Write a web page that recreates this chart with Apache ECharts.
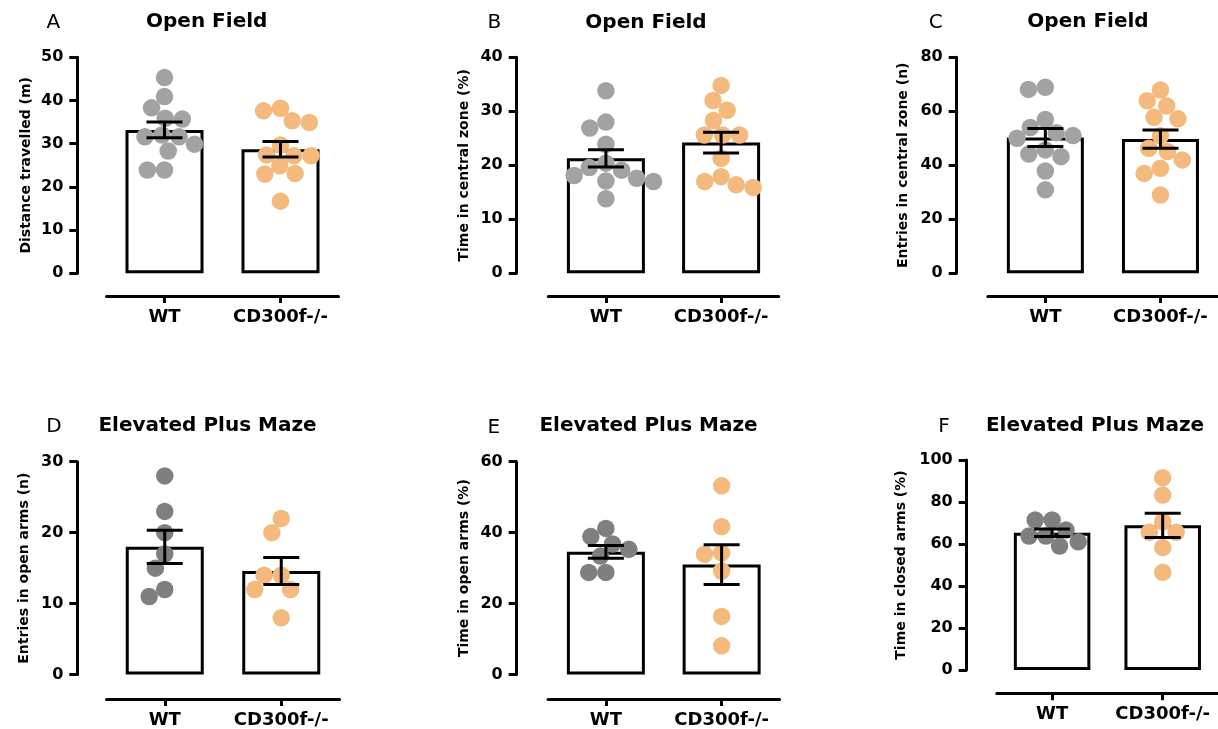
<!DOCTYPE html>
<html>
<head>
<meta charset="utf-8">
<script src="https://cdn.jsdelivr.net/npm/echarts@6/dist/echarts.min.js"></script>
<style>
html,body{margin:0;padding:0;background:#fff;}
#chart{width:1218px;height:729px;}
</style>
</head>
<body>
<div id="chart"></div>
<script>
// ---------------- data ----------------
const categories = ['WT', 'CD300f-/-'];

const A_WT = [45.3, 40.9, 38.3, 35.9, 35.7, 32.0, 31.6, 31.6, 29.9, 28.3, 23.9, 23.9];
const A_KO = [38.2, 37.6, 35.3, 34.9, 29.7, 27.4, 27.2, 27.2, 24.9, 23.1, 23.0, 16.7];
const A_MEAN = [33.2, 28.7];
const A_SEM = [1.85, 1.8];

const B_WT = [33.8, 28.0, 26.9, 23.9, 20.4, 19.6, 19.1, 18.1, 17.6, 17.1, 17.0, 13.8];
const B_KO = [34.8, 32.0, 30.2, 28.3, 25.6, 25.6, 25.6, 21.3, 17.9, 17.0, 16.4, 15.9];
const B_MEAN = [21.3, 24.2];
const B_SEM = [1.6, 1.9];

const C_WT = [68.9, 68.1, 57.0, 54.0, 52.1, 51.0, 50.0, 45.7, 44.2, 43.2, 37.9, 30.9];
const C_KO = [67.9, 63.9, 62.0, 57.8, 57.2, 50.9, 46.3, 45.1, 42.0, 38.9, 37.0, 29.0];
const C_MEAN = [50.3, 49.7];
const C_SEM = [3.3, 3.4];

const D_WT = [28, 23, 20, 17, 15, 12, 11];
const D_KO = [22, 20, 14, 14, 12, 12, 8];
const D_MEAN = [18.0, 14.6];
const D_SEM = [2.35, 1.9];

const E_WT = [41.2, 38.9, 36.8, 35.3, 33.4, 28.8, 28.8];
const E_KO = [53.2, 41.7, 34.3, 33.9, 29.2, 16.4, 8.1];
const E_MEAN = [34.6, 31.0];
const E_SEM = [1.8, 5.6];

const F_WT = [71.4, 71.4, 66.7, 63.8, 63.8, 61.1, 59.0];
const F_KO = [91.6, 83.3, 70.6, 65.6, 65.6, 58.3, 46.5];
const F_MEAN = [65.4, 68.9];
const F_SEM = [1.8, 5.8];

const Y_MAX = [50, 40, 80, 30, 60, 100];
const Y_INTERVAL = [10, 10, 20, 10, 20, 20];
const Y_NAMES = ['Distance travelled (m)', 'Time in central zone (%)', 'Entries in central zone (n)',
                 'Entries in open arms (n)', 'Time in open arms (%)', 'Time in closed arms (%)'];
const TITLES = ['Open Field', 'Open Field', 'Open Field', 'Elevated Plus Maze', 'Elevated Plus Maze', 'Elevated Plus Maze'];
const LETTERS = ['A', 'B', 'C', 'D', 'E', 'F'];

// ---------------- layout / style ----------------
const FONT = 'DejaVu Sans';
const GREY_TOP = '#a2a2a5';
const GREY_BOTTOM = '#7f7f7f';
const ORANGE = '#f4b97c';
const DOT = 17.5;

const layout = [
  {grid:{left:106.5, top:57.3, width:232, height:216}, yOff:29.2, xOff:22.7, nameGap:44, bw:78,
   tx:206.7, ty:22, lx:53.3, ly:23, grey:GREY_TOP},
  {grid:{left:548.3, top:57.3, width:230.4, height:216}, yOff:31.6, xOff:22.7, nameGap:45, bw:78,
   tx:646, ty:23, lx:494.3, ly:23, grey:GREY_TOP},
  {grid:{left:987.8, top:57.3, width:231.4, height:216}, yOff:31.1, xOff:22.7, nameGap:46.5, bw:77,
   tx:1088, ty:22, lx:935.7, ly:22.5, grey:GREY_TOP},
  {grid:{left:106.5, top:461.7, width:233, height:215.6}, yOff:29.2, xOff:24.4, nameGap:45.5, bw:78,
   tx:207.5, ty:426, lx:54, ly:426.5, grey:GREY_BOTTOM},
  {grid:{left:548, top:461.7, width:231.5, height:215.6}, yOff:31.3, xOff:24.4, nameGap:45, bw:78,
   tx:648.5, ty:426, lx:493.7, ly:428, grey:GREY_BOTTOM},
  {grid:{left:996.8, top:460, width:224.6, height:210}, yOff:30.1, xOff:23.3, nameGap:58.5, bw:76.5,
   tx:1095, ty:425.3, lx:944, ly:426.7, grey:GREY_BOTTOM}
];

const WT = [A_WT, B_WT, C_WT, D_WT, E_WT, F_WT];
const KO = [A_KO, B_KO, C_KO, D_KO, E_KO, F_KO];
const MEAN = [A_MEAN, B_MEAN, C_MEAN, D_MEAN, E_MEAN, F_MEAN];
const SEM = [A_SEM, B_SEM, C_SEM, D_SEM, E_SEM, F_SEM];

// beeswarm: horizontal offsets (px) so dots of the same group don't collide
function swarm(values, pxPerUnit, diam) {
  const order = values.map((v, i) => i).sort((a, b) => values[b] - values[a]);
  const placed = [];
  const out = new Array(values.length).fill(0);
  for (const i of order) {
    const y = values[i] * pxPerUnit;
    const cands = [0];
    for (const p of placed) {
      const dy = Math.abs(p.y - y);
      if (dy < diam) {
        const dx = Math.sqrt(diam * diam - dy * dy);
        cands.push(p.x + dx, p.x - dx);
      }
    }
    cands.sort((a, b) => Math.abs(a) - Math.abs(b) || a - b);
    let best = 0;
    for (const c of cands) {
      if (placed.every(p => (p.x - c) ** 2 + (p.y - y) ** 2 >= diam * diam - 1e-6)) { best = c; break; }
    }
    placed.push({x: best, y});
    out[i] = best;
  }
  return out;
}

const grids = [], xAxes = [], yAxes = [], series = [], graphics = [];

layout.forEach((L, i) => {
  grids.push(Object.assign({containLabel:false}, L.grid));
  // category axis (visible)
  xAxes.push({
    type:'category', gridIndex:i, data:categories, position:'bottom', offset:L.xOff,
    axisLine:{show:true, onZero:false, lineStyle:{color:'#000', width:3}},
    axisTick:{show:true, alignWithLabel:true, length:7, lineStyle:{color:'#000', width:3}},
    axisLabel:{color:'#000', fontFamily:FONT, fontWeight:'bold', fontSize:18, margin:12, interval:0},
    splitLine:{show:false}
  });
  // value axis for dot placement (hidden)
  xAxes.push({type:'value', gridIndex:i, min:-0.5, max:1.5, show:false,
    axisLine:{onZero:false}, splitLine:{show:false}});
  yAxes.push({
    type:'value', gridIndex:i, min:0, max:Y_MAX[i], interval:Y_INTERVAL[i], offset:L.yOff, position:'left',
    name:Y_NAMES[i], nameLocation:'middle', nameGap:L.nameGap, nameRotate:90,
    nameTextStyle:{color:'#000', fontFamily:FONT, fontWeight:'bold', fontSize:14},
    axisLine:{show:true, onZero:false, lineStyle:{color:'#000', width:3}},
    axisTick:{show:true, length:8, lineStyle:{color:'#000', width:3}},
    axisLabel:{color:'#000', fontFamily:FONT, fontWeight:'bold', fontSize:16, margin:14},
    splitLine:{show:false}
  });

  const pxPerUnit = L.grid.height / Y_MAX[i];
  const halfCat = L.grid.width / 2;

  series.push({
    type:'bar', xAxisIndex:2 * i, yAxisIndex:i, data:MEAN[i], barWidth:L.bw, z:1, silent:true,
    itemStyle:{color:'#fff', borderColor:'#000', borderWidth:3}
  });

  [WT[i], KO[i]].forEach((vals, g) => {
    const offs = swarm(vals, pxPerUnit, DOT * 0.98);
    series.push({
      type:'scatter', xAxisIndex:2 * i + 1, yAxisIndex:i, z:2, silent:true,
      symbol:'circle', symbolSize:DOT,
      itemStyle:{color: g === 0 ? L.grey : ORANGE, opacity:1},
      data: vals.map((v, k) => [g + offs[k] / halfCat, v])
    });
  });

  series.push({
    type:'custom', xAxisIndex:2 * i, yAxisIndex:i, z:3, silent:true,
    data: MEAN[i].map((m, k) => [k, m, SEM[i][k]]),
    renderItem: function (params, api) {
      const x = api.value(0), m = api.value(1), s = api.value(2);
      const top = api.coord([x, m + s]);
      const bot = api.coord([x, m - s]);
      const hw = 18;
      const st = {stroke:'#000', lineWidth:3};
      return {type:'group', children:[
        {type:'line', shape:{x1:top[0], y1:top[1], x2:bot[0], y2:bot[1]}, style:st},
        {type:'line', shape:{x1:top[0] - hw, y1:top[1], x2:top[0] + hw, y2:top[1]}, style:st},
        {type:'line', shape:{x1:bot[0] - hw, y1:bot[1], x2:bot[0] + hw, y2:bot[1]}, style:st}
      ]};
    }
  });

  graphics.push({
    type:'text', x:L.tx, y:L.ty, silent:true,
    style:{text:TITLES[i], fill:'#000', font:'bold 20px "' + FONT + '"', align:'center', verticalAlign:'middle'}
  });
  graphics.push({
    type:'text', x:L.lx, y:L.ly, silent:true,
    style:{text:LETTERS[i], fill:'#000', font:'normal 20px "' + FONT + '"', align:'center', verticalAlign:'middle'}
  });
});

const chart = echarts.init(document.getElementById('chart'), null, {renderer:'canvas'});
chart.setOption({
  animation:false,
  backgroundColor:'#fff',
  grid:grids,
  xAxis:xAxes,
  yAxis:yAxes,
  series:series,
  graphic:graphics
});
</script>
</body>
</html>
